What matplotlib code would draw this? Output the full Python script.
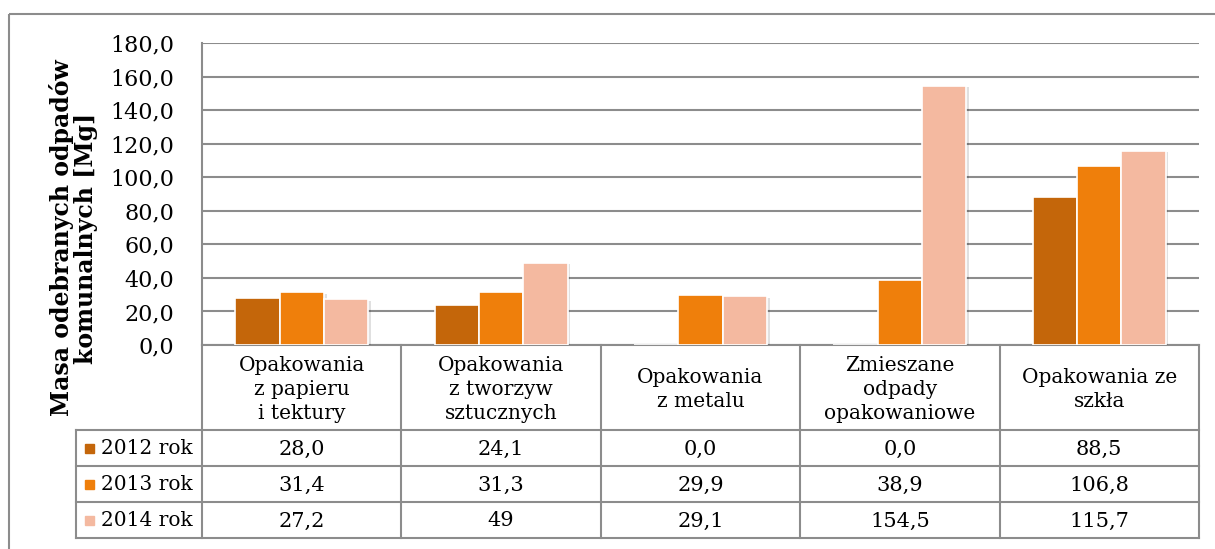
import numpy as np
import matplotlib
matplotlib.use("Agg")
import matplotlib.pyplot as plt
import matplotlib.patheffects as pe
from matplotlib.lines import Line2D
from matplotlib.patches import Rectangle

# data
categories = ["Opakowania\nz papieru\ni tektury", "Opakowania\nz tworzyw\nsztucznych",
              "Opakowania\nz metalu", "Zmieszane\nodpady\nopakowaniowe", "Opakowania ze\nszkła"]
series_names = ["2012 rok", "2013 rok", "2014 rok"]
v2012 = [28.0, 24.1, 0.0, 0.0, 88.5]
v2013 = [31.4, 31.3, 29.9, 38.9, 106.8]
v2014 = [27.2, 49.0, 29.1, 154.5, 115.7]
t2012 = ["28,0", "24,1", "0,0", "0,0", "88,5"]
t2013 = ["31,4", "31,3", "29,9", "38,9", "106,8"]
t2014 = ["27,2", "49", "29,1", "154,5", "115,7"]
yticks = np.arange(0, 181, 20)
colors = ["#C4660A", "#EF7F0B", "#F4B9A0"]

plt.rcParams['font.family'] = ['DejaVu Serif']
W, H = 1215, 549
fig = plt.figure(figsize=(W / 100, H / 100), dpi=100)

# pixel layout
px_left, px_right, px_top, px_bot = 202, 1199, 43, 345
ax = fig.add_axes([px_left / W, 1 - px_bot / H, (px_right - px_left) / W, (px_bot - px_top) / H])

n = len(categories)
x = np.arange(n)
bw = 0.222
shadow = [pe.SimplePatchShadow(offset=(2, -1), shadow_rgbFace="#000000", alpha=0.12), pe.Normal()]
for k, vals in enumerate([v2012, v2013, v2014]):
    bars = ax.bar(x + (k - 1) * bw, vals, bw, color=colors[k], edgecolor="white",
                  linewidth=1.2, zorder=3)
    for b in bars:
        if b.get_height() > 0:
            b.set_path_effects(shadow)

ax.set_xlim(-0.5, n - 0.5)
ax.set_ylim(0, 180)
ax.set_yticks(yticks)
ax.set_yticklabels([f"{v:.1f}".replace(".", ",") for v in yticks], fontsize=16)
ax.tick_params(axis="y", length=0, pad=20)
ax.set_xticks([])
ax.grid(axis="y", color="#8c8c8c", linewidth=1.5, zorder=0)
for s in ["top", "right"]:
    ax.spines[s].set_visible(False)
ax.spines["left"].set_color("#8c8c8c")
ax.spines["left"].set_linewidth(1.5)
ax.spines["bottom"].set_color("#8c8c8c")
ax.spines["bottom"].set_linewidth(1.5)

# overlay in pixel coordinates for frame and data table
ov = fig.add_axes([0, 0, 1, 1], zorder=-1)
ov.set_xlim(0, W)
ov.set_ylim(H, 0)
ov.axis("off")
ov2 = fig.add_axes([0, 0, 1, 1])
ov2.set_xlim(0, W)
ov2.set_ylim(H, 0)
ov2.axis("off")
ov2.patch.set_alpha(0)

ov.add_patch(Rectangle((9, 14), 1230, 560, fill=False, edgecolor="#8c8c8c", linewidth=1.5))

gc = "#8c8c8c"
lw = 1.5
head_bot = 430
row_h = 36
rows_bot = head_bot + 3 * row_h
label_left = 76
colw = (px_right - px_left) / n

def hline(y, x0, x1):
    ov2.add_line(Line2D([x0, x1], [y, y], color=gc, linewidth=lw))

def vline(xx, y0, y1):
    ov2.add_line(Line2D([xx, xx], [y0, y1], color=gc, linewidth=lw))

hline(head_bot, label_left, px_right)
for r in range(1, 4):
    hline(head_bot + r * row_h, label_left, px_right)
vline(label_left, head_bot, rows_bot)
for i in range(n + 1):
    vline(px_left + i * colw, px_bot, rows_bot)

for i, cat in enumerate(categories):
    ov2.text(px_left + (i + 0.5) * colw, (px_bot + head_bot) / 2 + 2, cat, ha="center",
             va="center", fontsize=14.5, linespacing=1.32)

for r, (name, vals) in enumerate(zip(series_names, [t2012, t2013, t2014])):
    yc = head_bot + (r + 0.5) * row_h
    ov2.add_patch(Rectangle((85, yc - 4.5), 9, 9, color=colors[r]))
    ov2.text(101, yc + 1, name, ha="left", va="center", fontsize=14.5)
    for i, s in enumerate(vals):
        ov2.text(px_left + (i + 0.5) * colw, yc + 1, s, ha="center", va="center", fontsize=15)

ov2.text(74, 238, "Masa odebranych odpadów\nkomunalnych [Mg]", rotation=90, ha="center",
         va="center", fontsize=17, fontweight="bold", linespacing=1.0)

fig.savefig("out.png", dpi=100)
